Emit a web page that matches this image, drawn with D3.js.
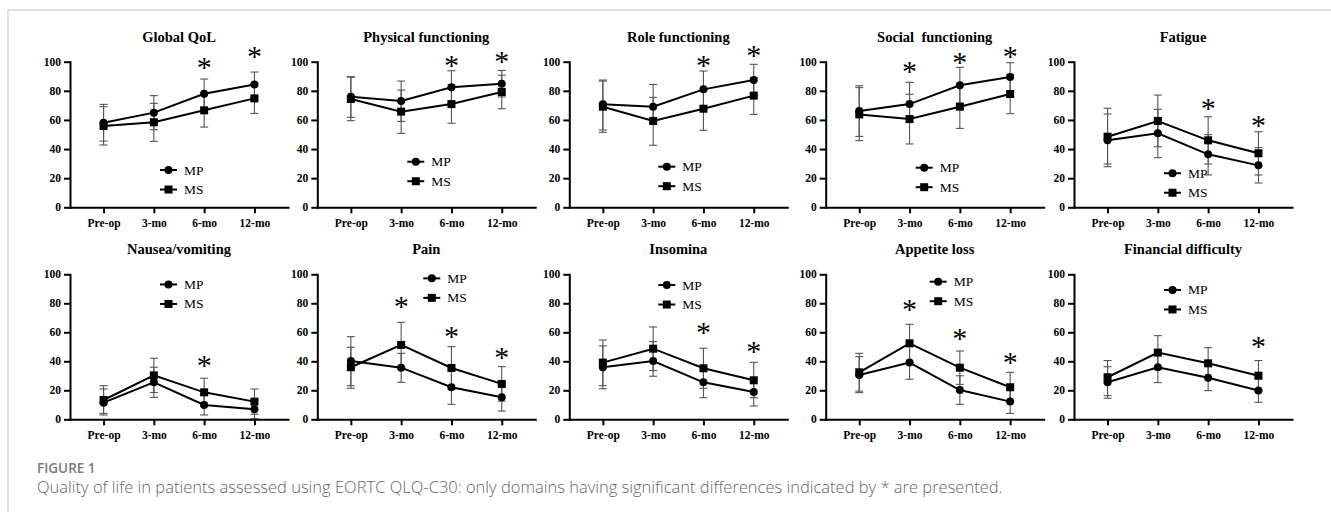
<!DOCTYPE html>
<html><head><meta charset="utf-8">
<script src="https://cdn.jsdelivr.net/npm/d3@7"></script>
<style>body{margin:0;background:#fff} svg{display:block}</style>
</head><body>
<svg id="c" width="1331" height="512"></svg>
<script>
// ---------- DATA ----------
const timepoints = ["Pre-op", "3-mo", "6-mo", "12-mo"];
const domains = ["Global QoL", "Physical functioning", "Role functioning", "Social  functioning", "Fatigue",
                 "Nausea/vomiting", "Pain", "Insomina", "Appetite loss", "Financial difficulty"];
const yTicks = [0, 20, 40, 60, 80, 100];
const seriesNames = ["MP", "MS"];

const mpMean = [
  [58.1, 65.0, 78.0, 84.4], [76.0, 73.0, 82.4, 84.9], [70.7, 69.1, 81.0, 87.4], [66.1, 70.9, 83.8, 89.5], [46.0, 50.8, 36.4, 28.8],
  [11.5, 25.5, 9.9, 6.9], [40.2, 35.6, 22.1, 15.2], [35.9, 40.2, 25.5, 18.9], [30.6, 39.1, 20.2, 12.2], [25.5, 35.9, 28.7, 19.8]
];
const mpLow = [
  [45.5, 53.3, 68.0, 75.9], [61.8, 59.0, 71.5, 75.8], [53.1, 60.6, 68.4, 76.6], [48.7, 62.5, 71.5, 79.7], [27.9, 34.1, 22.2, 16.7],
  [3.0, 15.1, 3.0, 0.5], [23.2, 25.5, 10.3, 5.7], [21.1, 29.7, 14.9, 9.2], [18.4, 27.6, 10.3, 4.1], [14.5, 25.3, 19.8, 11.7]
];
const mpHigh = [
  [70.7, 76.7, 88.1, 92.9], [89.7, 86.7, 93.8, 94.0], [87.4, 84.4, 93.6, 98.2], [83.5, 85.8, 96.1, 99.3], [64.1, 67.3, 49.9, 41.0],
  [20.9, 35.9, 16.8, 13.3], [57.0, 45.5, 33.9, 24.7], [50.6, 53.6, 36.1, 28.6], [43.2, 50.6, 30.0, 20.3], [36.3, 46.5, 37.6, 27.9]
];
const msMean = [
  [55.8, 58.4, 66.6, 74.8], [74.4, 65.7, 70.9, 79.2], [69.1, 59.3, 67.7, 76.7], [63.8, 60.6, 69.1, 77.8], [48.5, 59.3, 46.0, 37.1],
  [13.3, 30.3, 18.6, 12.2], [35.9, 51.3, 35.4, 24.4], [39.1, 48.7, 35.2, 26.9], [32.4, 52.4, 35.6, 22.1], [29.0, 46.0, 38.6, 30.1]
];
const msLow = [
  [42.8, 45.3, 55.1, 64.5], [59.5, 50.8, 57.7, 67.7], [51.5, 42.6, 52.9, 63.8], [45.8, 43.5, 54.2, 64.3], [29.7, 41.6, 29.7, 22.2],
  [4.1, 18.5, 8.9, 3.5], [21.4, 35.7, 20.7, 12.5], [23.2, 33.6, 21.4, 14.9], [19.4, 39.3, 24.1, 11.8], [16.3, 34.3, 27.8, 19.7]
];
const msHigh = [
  [69.1, 71.4, 78.0, 85.1], [89.4, 80.5, 84.0, 90.7], [86.7, 75.5, 80.5, 89.0], [82.2, 77.6, 84.0, 91.3], [68.0, 77.1, 62.2, 51.9],
  [23.2, 42.1, 28.3, 20.9], [49.7, 66.9, 50.1, 36.3], [54.7, 63.7, 49.0, 39.3], [45.5, 65.5, 47.1, 32.4], [40.5, 57.7, 49.4, 40.5]
];
// significance markers: [timepoint, level on the y scale]
const stars = [
  [["6-mo", 98.9], ["12-mo", 106.4]],
  [["6-mo", 100.5], ["12-mo", 103.4]],
  [["6-mo", 100.5], ["12-mo", 107.3]],
  [["3-mo", 96.6], ["6-mo", 102.6], ["12-mo", 106.9]],
  [["6-mo", 70.7], ["12-mo", 59.5]],
  [["6-mo", 40.5]],
  [["3-mo", 80.7], ["6-mo", 60.5], ["12-mo", 45.5]],
  [["6-mo", 62.8], ["12-mo", 49.7]],
  [["3-mo", 78.9], ["6-mo", 58.6], ["12-mo", 42.0]],
  [["12-mo", 53.6]]
];
const captionLabel = "FIGURE 1";
const captionText = "Quality of life in patients assessed using EORTC QLQ-C30: only domains having significant differences indicated by * are presented.";

// ---------- LAYOUT ----------
const colX = [70, 317.3, 569.3, 825.7, 1074];
const rowY = [{top: 61.7, bottom: 207.3}, {top: 274.3, bottom: 419.3}];
const axisLen = 218;
// legend anchor per panel: [x offset from y axis, y level of first row]
const legendPos = [[90, 25.6], [90, 31.3], [89, 27.9], [90, 27.2], [90, 23.4],
                   [90, 93], [106, 97.2], [89, 92.6], [104, 94.9], [90, 89.2]];
const serif = "'Liberation Serif','Times New Roman',serif";

const svg = d3.select("#c");

// frame
svg.append("line").attr("x1", 8).attr("x2", 1331).attr("y1", 10).attr("y2", 10)
  .attr("stroke", "#d6d6d6").attr("stroke-width", 1.5);
svg.append("line").attr("x1", 8).attr("x2", 8).attr("y1", 10).attr("y2", 512)
  .attr("stroke", "#d6d6d6").attr("stroke-width", 1.5);

domains.forEach((name, i) => {
  const col = i % 5, row = Math.floor(i / 5);
  const ax = colX[col], r = rowY[row];
  const x = d3.scalePoint().domain(timepoints).range([ax, ax + axisLen]).padding(0.667);
  const y = d3.scaleLinear().domain([0, 100]).range([r.bottom, r.top]);
  const g = svg.append("g");

  g.append("text").attr("x", ax + axisLen / 2).attr("y", r.top - 20)
    .attr("text-anchor", "middle").style("white-space", "pre")
    .attr("font-family", serif).attr("font-weight", "bold").attr("font-size", 14.5)
    .text(name);

  const yAx = g.append("g").attr("transform", `translate(${ax},0)`)
    .call(d3.axisLeft(y).tickValues(yTicks).tickSize(6).tickSizeOuter(0).tickPadding(3));
  const xAx = g.append("g").attr("transform", `translate(0,${r.bottom})`)
    .call(d3.axisBottom(x).tickSize(6).tickSizeOuter(0).tickPadding(6));
  [yAx, xAx].forEach(a => {
    a.select(".domain").attr("stroke", "#000").attr("stroke-width", 2).attr("stroke-linecap", "square");
    a.selectAll(".tick line").attr("stroke", "#000").attr("stroke-width", 2);
    a.selectAll(".tick text").attr("font-family", serif).attr("font-weight", "bold")
      .attr("font-size", 11.5).attr("fill", "#000");
  });

  const series = [
    {mean: mpMean[i], low: mpLow[i], high: mpHigh[i], shape: "circle"},
    {mean: msMean[i], low: msLow[i], high: msHigh[i], shape: "square"}
  ];

  series.forEach(s => {
    timepoints.forEach((t, k) => {
      const cx = x(t);
      const eg = g.append("g").attr("stroke", "#555").attr("stroke-width", 1.1).attr("fill", "none");
      eg.append("line").attr("x1", cx).attr("x2", cx).attr("y1", y(s.low[k])).attr("y2", y(s.high[k]));
      [s.low[k], s.high[k]].forEach(v =>
        eg.append("line").attr("x1", cx - 4).attr("x2", cx + 4).attr("y1", y(v)).attr("y2", y(v)));
    });
  });

  const line = d3.line().x((d, k) => x(timepoints[k])).y(d => y(d));
  series.forEach(s => {
    g.append("path").attr("d", line(s.mean)).attr("fill", "none")
      .attr("stroke", "#000").attr("stroke-width", 2);
  });
  series.forEach(s => {
    s.mean.forEach((v, k) => {
      if (s.shape === "circle")
        g.append("circle").attr("cx", x(timepoints[k])).attr("cy", y(v)).attr("r", 4).attr("fill", "#000");
      else
        g.append("rect").attr("x", x(timepoints[k]) - 4).attr("y", y(v) - 4)
          .attr("width", 8).attr("height", 8).attr("fill", "#000");
    });
  });

  stars[i].forEach(([t, lv]) => {
    g.append("text").attr("x", x(t)).attr("y", y(lv) + 14)
      .attr("text-anchor", "middle").attr("font-family", serif)
      .attr("font-size", 30).attr("fill", "#000").text("*");
  });

  const [lx, lv] = legendPos[i];
  seriesNames.forEach((nm, j) => {
    const yy = y(lv) + j * 19.5, x0 = ax + lx;
    g.append("line").attr("x1", x0).attr("x2", x0 + 17).attr("y1", yy).attr("y2", yy)
      .attr("stroke", "#000").attr("stroke-width", 2);
    if (j === 0) g.append("circle").attr("cx", x0 + 8.5).attr("cy", yy).attr("r", 4).attr("fill", "#000");
    else g.append("rect").attr("x", x0 + 4.5).attr("y", yy - 4).attr("width", 8).attr("height", 8).attr("fill", "#000");
    g.append("text").attr("x", x0 + 24).attr("y", yy + 4.5)
      .attr("font-family", serif).attr("font-size", 13.5).attr("fill", "#000").text(nm);
  });
});

svg.append("text").attr("x", 37).attr("y", 473)
  .attr("font-family", "'Open Sans',sans-serif").attr("font-weight", 600).attr("font-size", 13.5)
  .attr("fill", "#7a7a7a").text(captionLabel);
svg.append("text").attr("x", 37).attr("y", 493)
  .attr("font-family", "'Open Sans',sans-serif").attr("font-weight", 300).attr("font-size", 16.5)
  .attr("fill", "#666").text(captionText);
</script>
</body></html>
